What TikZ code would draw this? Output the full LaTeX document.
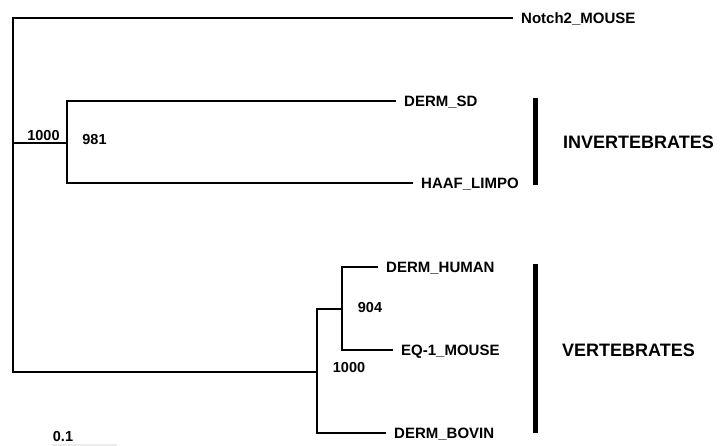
\documentclass[tikz,border=0pt]{standalone}
\usepackage{fontspec}
\setmainfont{Liberation Sans}
\usetikzlibrary{positioning}

\begin{document}
\begin{tikzpicture}[
        x = 1pt, y = -1pt,
        branch/.style = {line width = 1.8pt},
        leaf/.style = {anchor = west, inner xsep = 8pt, inner ysep = 0pt,
            text height = 10.7pt, text depth = 0pt,
            font = \fontsize{15}{15}\selectfont\bfseries},
        boot/.style = {inner sep = 0pt, font = \fontsize{14.5}{14.5}\selectfont\bfseries},
        group/.style = {anchor = west, inner sep = 0pt, font = \fontsize{18}{18}\selectfont\bfseries},
        bar/.style = {line width = 5pt}
    ]
      \useasboundingbox (0,0) rectangle (722,446);

      % internal nodes of the tree
      \coordinate (root) at (13,143);
      \coordinate (inv)  at (67,143);
      \coordinate (vrt)  at (317,372);
      \coordinate (mam)  at (342,309);

      % leaves
      \node[leaf] (notch) at (513,18)  {Notch2\_MOUSE};
      \node[leaf] (dsd)   at (396,101) {DERM\_SD};
      \node[leaf] (haaf)  at (413,183) {HAAF\_LIMPO};
      \node[leaf] (dhum)  at (378,267) {DERM\_HUMAN};
      \node[leaf] (eq)    at (393,350) {EQ-1\_MOUSE};
      \node[leaf] (dbov)  at (386,433) {DERM\_BOVIN};

      % branches
      \draw[branch] (notch.west) -| (root) |- (vrt);
      \draw[branch] (root) -- (inv);
      \draw[branch] (dsd.west) -| (inv) |- (haaf.west);
      \draw[branch] (mam) -| (vrt) |- (dbov.west);
      \draw[branch] (dhum.west) -| (mam) |- (eq.west);

      % bootstrap values
      \node[boot] (b1) at (43.5,136) {1000};
      \node[boot] (b2) at (94.5,140) {981};
      \node[boot] (b3) at (370,308)  {904};
      \node[boot] (b4) at (349,368)  {1000};

      % groups
      \draw[bar] (535,98) -- (535,185);
      \draw[bar] (535,264) -- (535,433);
      \node[group] (ginv) at (563,142) {INVERTEBRATES};
      \node[group] (gvrt) at (562,350) {VERTEBRATES};

      % scale
      \node[boot] (scl) at (63,437) {0.1};
      \draw[gray!15, line width = 1.5pt] (52,445) -- (117,445);
    \end{tikzpicture}
\end{document}
